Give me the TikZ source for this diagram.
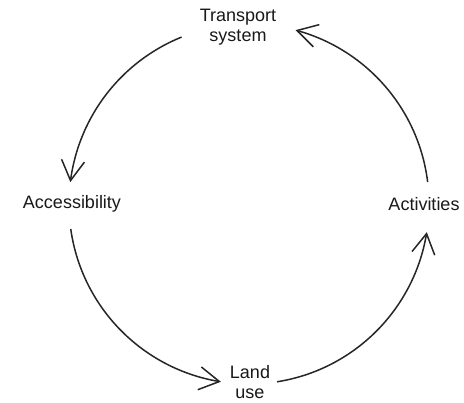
\documentclass[tikz,border=0pt]{standalone}
\usepackage{fontspec}
\setmainfont{Liberation Sans}
\usetikzlibrary{arrows.meta,bending}
\begin{document}
\begin{tikzpicture}[x=1pt,y=1pt,
  lbl/.style={align=center,text=black!90,font=\fontsize{18}{20.5}\selectfont,inner sep=1pt},
  cyc/.style={line width=1.5pt,draw=black!85,-{Straight Barb[length=20pt,width=23pt,line width=1.5pt,flex]}}]
\useasboundingbox (0,0) rectangle (464,403);
\fill[white] (0,0) rectangle (464,403);
\coordinate (c) at (249,199);
\node[lbl] (ts) at (238,376) {Transport\\system};
\node[lbl] (acc) at (72,199) {Accessibility};
\node[lbl] (act) at (424,199) {Activities};
\node[lbl] (lu) at (250,21) {Land\\use};
\path (c) ++(112:180) coordinate (s1);
\path (c) ++(188:180) coordinate (s2);
\path (c) ++(279:180) coordinate (s3);
\path (c) ++(7:180) coordinate (s4);
\draw[cyc] (s1) arc[start angle=112,end angle=173,radius=180];
\draw[cyc] (s2) arc[start angle=188,end angle=261,radius=180];
\draw[cyc] (s3) arc[start angle=279,end angle=351,radius=180];
\draw[cyc] (s4) arc[start angle=7,end angle=75,radius=180];
\end{tikzpicture}
\end{document}
